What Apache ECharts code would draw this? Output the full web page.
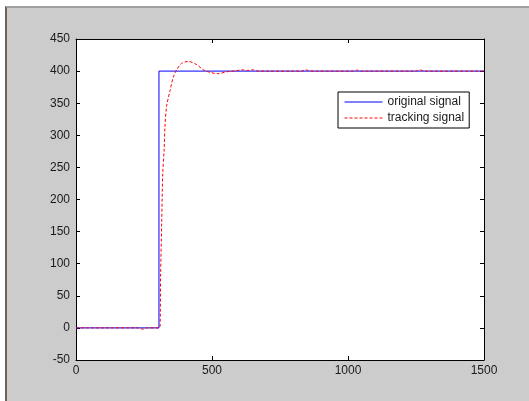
<!DOCTYPE html>
<html>
<head>
<meta charset="utf-8">
<script src="https://cdn.jsdelivr.net/npm/echarts@6/dist/echarts.min.js"></script>
<style>
    html, body { margin: 0; padding: 0; background: #fff; overflow: hidden; }
    #frame {
        position: absolute; left: 5px; top: 6px; width: 526px; height: 397px;
        background: #cccccc; border-left: 2px solid #6f6358; border-top: 2px solid #a0a0a0;
        box-sizing: border-box;
    }
    #chart { position: absolute; left: 0; top: 0; width: 529px; height: 401px; }
</style>
</head>
<body>
<div id="frame"></div>
<div id="chart"></div>
<script>
    // 原始信号 (step)
    var originalT = [0, 305, 305, 1500];
    var originalV = [0, 0, 400, 400];

    // 跟踪信号
    var trackingT = [0, 230, 246, 262, 305, 309, 311, 315, 319, 324, 327, 333, 346, 358, 370, 388, 413, 444, 468, 493, 523, 554, 590, 610, 630, 650, 670, 700, 830, 845, 860, 880, 1020, 1035, 1050, 1070, 1250, 1265, 1280, 1300, 1500];
    var trackingV = [0, 0, -2, 0, 0, 2, 80, 163, 241, 277, 313, 345, 370, 391, 402, 412, 415, 410, 402, 398, 396, 399, 400.5, 402, 401, 402, 400, 400, 400, 402, 400, 400, 400, 401.5, 400, 400, 400, 402, 400, 400, 400];

    var xTicks = [0, 500, 1000, 1500];
    var yTicks = [-50, 0, 50, 100, 150, 200, 250, 300, 350, 400, 450];

    function pairs(t, v) {
        var out = [];
        for (var i = 0; i < t.length; i++) out.push([t[i], v[i]]);
        return out;
    }

    var labelStyle = { color: '#1a1a1a', fontFamily: 'Liberation Sans, Arial', fontSize: 12, formatter: function (v) { return String(v); } };
    var boxLine = { show: true, onZero: false, lineStyle: { color: '#000', width: 1 } };
    var tickIn = { show: true, inside: true, length: 4, lineStyle: { color: '#000' } };

    var option = {
        animation: false,
        backgroundColor: 'transparent',
        grid: { left: 76, top: 39, right: 45, bottom: 41, backgroundColor: '#fff', show: true, borderWidth: 0 },
        legend: {
            orient: 'vertical', left: 338, top: 92,
            backgroundColor: '#fff', borderColor: '#000', borderWidth: 1,
            padding: [4, 5, 4, 6], itemGap: 4, itemWidth: 38, itemHeight: 14,
            itemStyle: { opacity: 0 },
            lineStyle: { width: 1 },
            textStyle: { color: '#1a1a1a', fontFamily: 'Liberation Sans, Arial', fontSize: 12 },
            data: ['original signal', 'tracking signal']
        },
        xAxis: [{
            type: 'value', min: xTicks[0], max: xTicks[xTicks.length - 1], interval: 500,
            axisLine: boxLine, axisTick: tickIn, splitLine: { show: false },
            axisLabel: Object.assign({ margin: 5 }, labelStyle)
        }, {
            type: 'value', position: 'top', min: 0, max: 1500, interval: 500,
            axisLine: boxLine, axisTick: tickIn, splitLine: { show: false }, axisLabel: { show: false }
        }],
        yAxis: [{
            type: 'value', min: yTicks[0], max: yTicks[yTicks.length - 1], interval: 50,
            axisLine: boxLine, axisTick: tickIn, splitLine: { show: false },
            axisLabel: Object.assign({ margin: 6 }, labelStyle)
        }, {
            type: 'value', position: 'right', min: -50, max: 450, interval: 50,
            axisLine: boxLine, axisTick: tickIn, splitLine: { show: false }, axisLabel: { show: false }
        }],
        series: [{
            name: 'original signal', type: 'line', symbol: 'none',
            lineStyle: { color: '#0000ff', width: 1 }, itemStyle: { color: '#0000ff' },
            data: pairs(originalT, originalV)
        }, {
            name: 'tracking signal', type: 'line', symbol: 'none', smooth: 0.3,
            lineStyle: { color: '#ff0000', width: 1, type: [3, 2] }, itemStyle: { color: '#ff0000' },
            data: pairs(trackingT, trackingV)
        }]
    };

    echarts.init(document.getElementById('chart')).setOption(option);
</script>
</body>
</html>
